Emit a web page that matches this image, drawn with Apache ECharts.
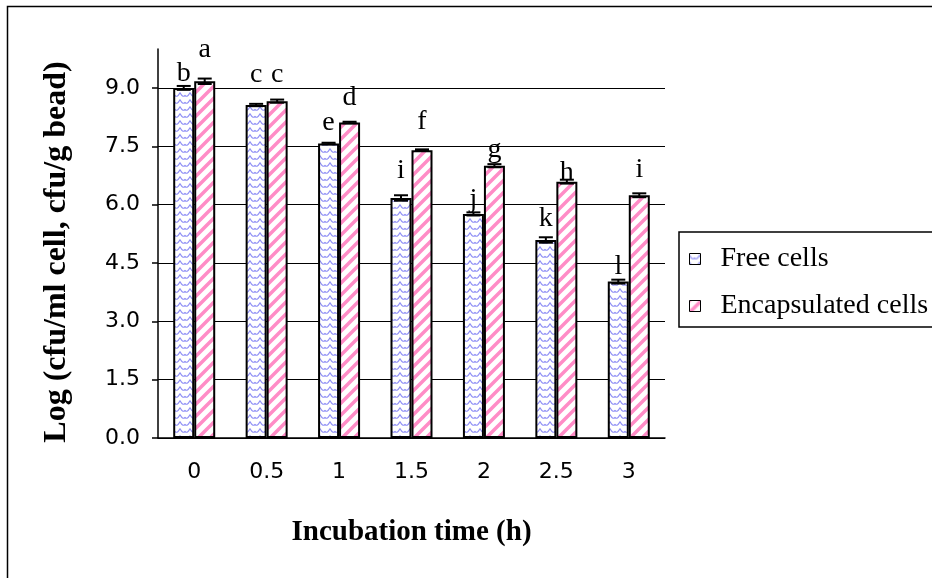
<!DOCTYPE html>
<html>
<head>
<meta charset="utf-8">
<script src="https://cdn.jsdelivr.net/npm/echarts@6/dist/echarts.min.js"></script>
<style>
  html, body { margin: 0; padding: 0; background: #fff; }
  #main { width: 932px; height: 578px; }
</style>
</head>
<body>
<div id="main"></div>
<script>
// incubation time (h)
var categories = ['0', '0.5', '1', '1.5', '2', '2.5', '3'];
// log cfu values
var freeCells  = [9.00, 8.56, 7.57, 6.17, 5.76, 5.09, 4.02];
var encapCells = [9.17, 8.66, 8.11, 7.40, 7.00, 6.59, 6.24];
// error bars (+/-)
var freeErr  = [0.05, 0.03, 0.02, 0.07, 0.04, 0.07, 0.05];
var encapErr = [0.07, 0.04, 0.02, 0.02, 0.04, 0.05, 0.05];
// significance letters
var freeLetters  = ['b', 'c', 'e', 'i', 'j', 'k', 'l'];
var encapLetters = ['a', 'c', 'd', 'f', 'g', 'h', 'i'];
var yTicks = [0, 1.5, 3, 4.5, 6, 7.5, 9];

// how high each letter sits above its bar (px), hand placed like the original
var freeLift  = [5, 21, 12, 18, 5, 12, 6];
var encapLift = [23, 17, 16, 19, 7, 0, 17];

var barW = 21;

function wavePattern() {
    var c = document.createElement('canvas');
    c.width = 10; c.height = 7;
    var ctx = c.getContext('2d');
    ctx.fillStyle = '#fff';
    ctx.fillRect(0, 0, 10, 7);
    ctx.strokeStyle = '#8f8ff5';
    ctx.lineWidth = 1.1;
    ctx.beginPath();
    ctx.moveTo(0, 1.5);
    ctx.quadraticCurveTo(2.5, 7, 5, 4.5);
    ctx.quadraticCurveTo(7.5, 7, 10, 1.5);
    ctx.stroke();
    return c;
}

function stripePattern() {
    var c = document.createElement('canvas');
    c.width = 12; c.height = 12;
    var ctx = c.getContext('2d');
    ctx.fillStyle = '#fff';
    ctx.fillRect(0, 0, 12, 12);
    ctx.strokeStyle = '#ff8cc6';
    ctx.lineWidth = 3.5;
    ctx.beginPath();
    ctx.moveTo(-3, 15); ctx.lineTo(15, -3);
    ctx.moveTo(-9, 9); ctx.lineTo(9, -9);
    ctx.moveTo(3, 21); ctx.lineTo(21, 3);
    ctx.stroke();
    return c;
}

function barData(vals, lift) {
    var arr = [];
    for (var i = 0; i < vals.length; i++) {
        arr.push({ value: vals[i], label: { distance: lift[i] - 5 } });
    }
    return arr;
}

function errSeries(name, vals, errs, side) {
    var data = [];
    for (var i = 0; i < vals.length; i++) data.push([i, vals[i], errs[i]]);
    return {
        type: 'custom',
        name: name,
        silent: true,
        z: 10,
        data: data,
        renderItem: function (params, api) {
            var i = api.value(0), v = api.value(1), e = api.value(2);
            var hi = api.coord([i, v + e]);
            var lo = api.coord([i, v - e]);
            var cx = hi[0] + side * barW / 2;
            var half = 7;
            var st = { stroke: '#000', lineWidth: 2 };
            return {
                type: 'group',
                children: [
                    { type: 'line', shape: { x1: cx, y1: hi[1], x2: cx, y2: lo[1] }, style: st },
                    { type: 'line', shape: { x1: cx - half, y1: hi[1], x2: cx + half, y2: hi[1] }, style: st },
                    { type: 'line', shape: { x1: cx - half, y1: lo[1], x2: cx + half, y2: lo[1] }, style: st }
                ]
            };
        }
    };
}

var myChart = echarts.init(document.getElementById('main'));

var letterStyle = {
    show: true,
    position: 'top',
    fontFamily: 'Liberation Serif',
    fontSize: 28,
    color: '#000'
};

var option = {
    animation: false,
    backgroundColor: '#fff',
    graphic: [{
        type: 'rect',
        shape: { x: 7.5, y: 6.5, width: 1000, height: 1000 },
        style: { fill: 'none', stroke: '#000', lineWidth: 1.5 },
        silent: true
    }],
    grid: { left: 158, right: 267, top: 49, bottom: 140 },
    legend: {
        orient: 'vertical',
        left: 679,
        top: 232,
        padding: [13, 40, 7, 10],
        itemGap: 19,
        itemWidth: 11,
        itemHeight: 11,
        icon: 'rect',
        borderColor: '#000',
        borderWidth: 1.5,
        data: ['Free cells', 'Encapsulated cells'],
        itemStyle: { borderColor: '#000', borderWidth: 1 },
        textStyle: {
            fontFamily: 'Liberation Serif',
            fontSize: 28,
            color: '#000',
            padding: [0, 0, 0, 15]
        }
    },
    xAxis: {
        type: 'category',
        data: categories,
        name: 'Incubation time (h)',
        nameLocation: 'middle',
        nameGap: 80,
        nameTextStyle: {
            fontFamily: 'Liberation Serif',
            fontWeight: 'bold',
            fontSize: 29,
            color: '#000'
        },
        axisLine: { lineStyle: { color: '#000', width: 1.5 } },
        axisTick: { length: 7, lineStyle: { color: '#000', width: 1.5 } },
        axisLabel: {
            margin: 23,
            fontFamily: 'DejaVu Sans',
            fontSize: 22,
            color: '#000'
        }
    },
    yAxis: {
        type: 'value',
        min: 0,
        max: 10,
        interval: 1.5,
        name: 'Log (cfu/ml cell, cfu/g bead)',
        nameLocation: 'middle',
        nameGap: 85,
        nameTextStyle: {
            fontFamily: 'Liberation Serif',
            fontWeight: 'bold',
            fontSize: 32,
            color: '#000',
            padding: [0, 17, 0, 0]
        },
        axisLine: { show: true, lineStyle: { color: '#000', width: 1.5 } },
        axisTick: { show: true, length: 6, customValues: yTicks, lineStyle: { color: '#000', width: 1.5 } },
        axisLabel: {
            margin: 18,
            customValues: yTicks,
            fontFamily: 'DejaVu Sans',
            fontSize: 22,
            color: '#000',
            formatter: function (v) { return v.toFixed(1); }
        },
        splitLine: { show: true, lineStyle: { color: '#000', width: 1 } }
    },
    series: [
        {
            name: 'Free cells',
            type: 'bar',
            barWidth: barW,
            barGap: '0%',
            itemStyle: {
                color: { image: wavePattern(), repeat: 'repeat' },
                borderColor: '#000',
                borderWidth: 2
            },
            label: Object.assign({}, letterStyle, {
                formatter: function (p) { return freeLetters[p.dataIndex]; }
            }),
            data: barData(freeCells, freeLift)
        },
        {
            name: 'Encapsulated cells',
            type: 'bar',
            barWidth: barW,
            barGap: '0%',
            itemStyle: {
                color: { image: stripePattern(), repeat: 'repeat' },
                borderColor: '#000',
                borderWidth: 2
            },
            label: Object.assign({}, letterStyle, {
                formatter: function (p) { return encapLetters[p.dataIndex]; }
            }),
            data: barData(encapCells, encapLift)
        },
        errSeries('Free SD', freeCells, freeErr, -1),
        errSeries('Encap SD', encapCells, encapErr, 1)
    ]
};

myChart.setOption(option);
</script>
</body>
</html>
